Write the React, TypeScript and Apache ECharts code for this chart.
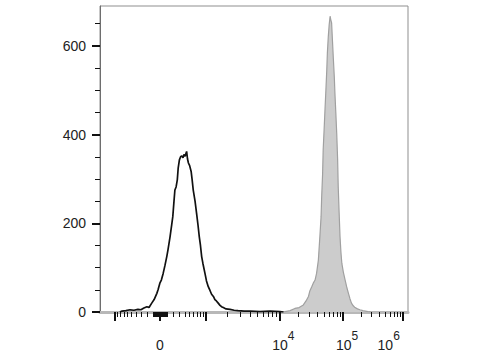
import React, { useEffect, useRef } from "react";
import * as echarts from "echarts";

// Display channels of the biexponential (logicle-like) x scale, 0..1024
const X_MAX = 1024;
const Y_MAX = 690;

// Scale anchors: fluorescence value -> display channel
const scaleAnchorValues = [-1000, 0, 1000, 1e4, 1e5, 1e6];
const scaleAnchorChannels = [50, 200, 353, 596, 808, 1008];

// Axis ticks (fluorescence values)
const xMajorTicks = [-1000, 0, 1000, 1e4, 1e5, 1e6];
const xMinorTicks = [
  -900, -800, -700, -600, -500, -400, -300, -200, -100,
  -90, -80, -70, -60, -50, -40, -30, -20, -10,
  10, 20, 30, 40, 50, 60, 70, 80, 90,
  100, 200, 300, 400, 500, 600, 700, 800, 900,
  2000, 3000, 4000, 5000, 6000, 7000, 8000, 9000,
  2e4, 3e4, 4e4, 5e4, 6e4, 7e4, 8e4, 9e4,
  2e5, 3e5, 4e5, 5e5, 6e5, 7e5, 8e5, 9e5,
];
const xLabelValues = [0, 1e4, 1e5, 1e6];
const xLabelTexts = ["0", "10|4", "10|5", "10|6"];

const yMajorTicks = [0, 200, 400, 600];
const yMinorTicks = [50, 100, 150, 250, 300, 350, 450, 500, 550, 650];

// Control histogram (black outline): channel, count
const controlChannel = [
  66, 73, 86, 100, 113, 126, 136, 146, 156, 163, 172, 180, 189, 193, 199, 204, 210,
  216, 222, 226, 233, 238, 242, 246, 249, 253, 257, 260, 264, 268, 272, 276, 279,
  283, 286, 288, 291, 294, 298, 303, 306, 310, 316, 321, 326, 330, 334, 338, 342,
  349, 354, 360, 366, 371, 377, 382, 387, 393, 399, 404, 410, 419, 432, 446, 459,
  479, 499, 532, 565, 598, 610,
];
const controlCount = [
  0, 2, 3, 5, 4, 6, 5, 9, 12, 10, 20, 28, 42, 50, 65, 72, 87,
  105, 125, 140, 170, 195, 215, 250, 275, 282, 298, 325, 343, 350, 352, 348, 355,
  351, 358, 362, 345, 336, 330, 317, 300, 275, 250, 223, 195, 170, 150, 125, 110,
  87, 70, 57, 48, 40, 35, 28, 25, 20, 15, 12, 10, 7, 6, 4, 3,
  2, 2, 1, 2, 1, 0,
];

// Stained histogram (gray filled): channel, count
const stainedChannel = [
  605, 615, 632, 648, 662, 676, 685, 693, 698, 704, 709, 715, 720, 726, 731, 735,
  737, 740, 742, 745, 748, 751, 754, 756, 759, 762, 765, 767, 770, 773, 776, 779,
  781, 784, 787, 790, 792, 795, 798, 801, 804, 809, 815, 820, 826, 831, 836, 842,
  848, 856, 864, 874, 891, 900,
];
const stainedCount = [
  0, 1, 3, 8, 10, 16, 25, 35, 48, 57, 65, 72, 87, 117, 170, 215,
  260, 310, 366, 410, 456, 500, 546, 585, 621, 648, 667, 660, 652, 610, 569, 530,
  494, 450, 403, 345, 283, 225, 170, 135, 110, 90, 72, 57, 42, 30, 20, 14,
  10, 7, 5, 3, 1, 0,
];

function toChannel(v: number): number {
  const h = (x: number) => Math.asinh(x / 400);
  const n = scaleAnchorValues.length;
  let i = 0;
  while (i < n - 2 && v > scaleAnchorValues[i + 1]) i++;
  const a = scaleAnchorValues[i];
  const b = scaleAnchorValues[i + 1];
  const t = (h(v) - h(a)) / (h(b) - h(a));
  return scaleAnchorChannels[i] + t * (scaleAnchorChannels[i + 1] - scaleAnchorChannels[i]);
}

const FONT = "Liberation Sans, Arial, Helvetica, sans-serif";

export default function App() {
  const ref = useRef<HTMLDivElement>(null);
  useEffect(() => {
    if (!ref.current) return;
    const chart = echarts.init(ref.current, undefined, { renderer: "svg" });
    const labelCh = xLabelValues.map(toChannel);
    const formatter = (val: number) => {
      let best = 0;
      for (let i = 1; i < labelCh.length; i++) {
        if (Math.abs(labelCh[i] - val) < Math.abs(labelCh[best] - val)) best = i;
      }
      const t = xLabelTexts[best];
      if (t.indexOf("|") < 0) return "{q| }{b|" + t + "}{s| }";
      const [base, exp] = t.split("|");
      if (best === labelCh.length - 1) return "{b|" + base + "}{s|" + exp + "}{r| }";
      return "{p| }{b|" + base + "}{s|" + exp + "}";
    };
    chart.setOption({
      animation: false,
      grid: {
        left: 100,
        right: 72,
        top: 6,
        bottom: 48,
        show: true,
        borderColor: "#8f8f8f",
        borderWidth: 1,
        backgroundColor: "transparent",
      },
      xAxis: [
        {
          type: "value",
          min: 0,
          max: X_MAX,
          position: "bottom",
          axisLine: { show: true, onZero: false, lineStyle: { color: "#b8b8b8", width: 3 } },
          axisTick: {
            show: true,
            customValues: xMajorTicks.map(toChannel),
            length: 9,
            lineStyle: { color: "#111", width: 2 },
          },
          axisLabel: {
            show: true,
            customValues: labelCh,
            formatter,
            margin: 18,
            rich: {
              p: { width: 8, fontSize: 14 },
              q: { width: 3, fontSize: 14 },
              r: { width: 29, fontSize: 14 },
              b: { fontSize: 14, fontFamily: FONT, color: "#222", lineHeight: 14, padding: [15, 0, 0, 0] },
              s: { fontSize: 12, fontFamily: FONT, color: "#222", lineHeight: 12, verticalAlign: "top" },
            },
          },
          splitLine: { show: false },
        },
        {
          type: "value",
          min: 0,
          max: X_MAX,
          position: "bottom",
          axisLine: { show: false },
          axisTick: {
            show: true,
            customValues: xMinorTicks.map(toChannel),
            length: 5,
            lineStyle: { color: "#111", width: 1 },
          },
          axisLabel: { show: false },
          splitLine: { show: false },
        },
      ],
      yAxis: [
        {
          type: "value",
          min: 0,
          max: Y_MAX,
          position: "left",
          axisLine: { show: true, lineStyle: { color: "#6e6e6e", width: 1 } },
          axisTick: {
            show: true,
            customValues: yMajorTicks,
            length: 8,
            lineStyle: { color: "#111", width: 2 },
          },
          axisLabel: {
            show: true,
            customValues: yMajorTicks,
            fontSize: 14,
            fontFamily: FONT,
            color: "#222",
            margin: 14,
          },
          splitLine: { show: false },
        },
        {
          type: "value",
          min: 0,
          max: Y_MAX,
          position: "left",
          axisLine: { show: false },
          axisTick: {
            show: true,
            customValues: yMinorTicks,
            length: 5,
            lineStyle: { color: "#111", width: 1 },
          },
          axisLabel: { show: false },
          splitLine: { show: false },
        },
      ],
      series: [
        {
          type: "line",
          name: "stained",
          xAxisIndex: 0,
          yAxisIndex: 0,
          showSymbol: false,
          symbol: "none",
          data: stainedChannel.map((c, i) => [c, stainedCount[i]]),
          lineStyle: { color: "#a0a0a0", width: 1.2 },
          areaStyle: { color: "#cccccc", opacity: 1 },
          z: 2,
        },
        {
          type: "line",
          name: "control",
          xAxisIndex: 0,
          yAxisIndex: 0,
          showSymbol: false,
          symbol: "none",
          data: controlChannel.map((c, i) => [c, controlCount[i]]),
          lineStyle: { color: "#111", width: 1.7 },
          z: 3,
        },
      ],
    });
    return () => chart.dispose();
  }, []);
  return (
    <div
      ref={ref}
      style={{ position: "absolute", left: 0, top: 0, width: 480, height: 360, background: "#fff" }}
    />
  );
}
